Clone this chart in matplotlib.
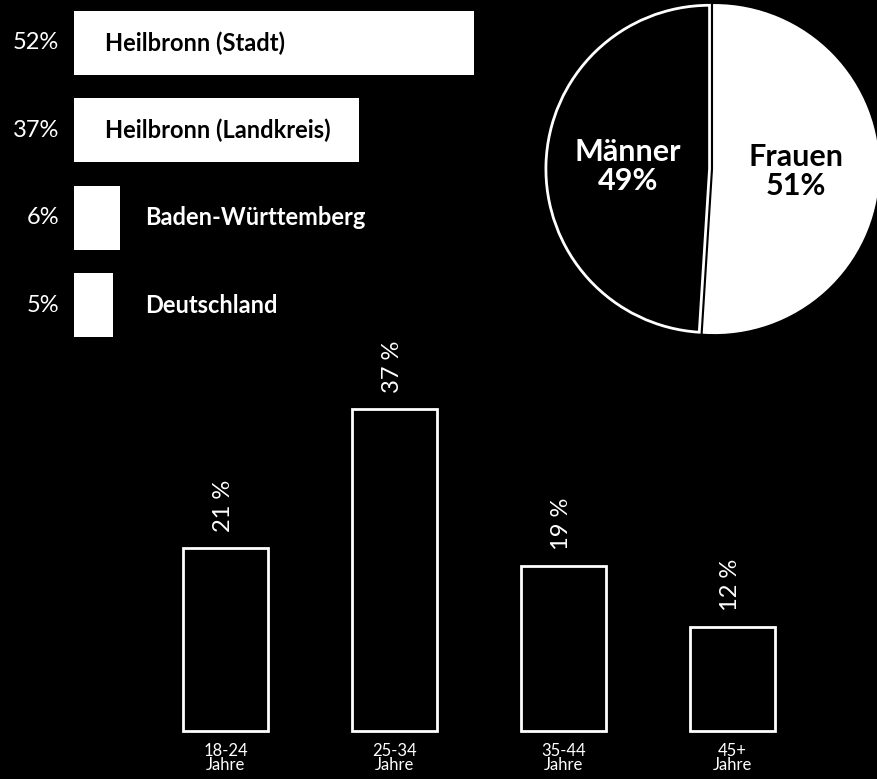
import matplotlib
matplotlib.use("Agg")
import matplotlib.pyplot as plt

# ---------------- data ----------------
regions = ["Heilbronn (Stadt)", "Heilbronn (Landkreis)", "Baden-Württemberg", "Deutschland"]
region_share = [52, 37, 6, 5]

gender_labels = ["Frauen", "Männer"]
gender_share = [51, 49]

age_groups = ["18-24\nJahre", "25-34\nJahre", "35-44\nJahre", "45+\nJahre"]
age_share = [21, 37, 19, 12]

# ---------------- figure ----------------
W, H = 877, 779
fig = plt.figure(figsize=(W / 100, H / 100), dpi=100, facecolor="black")

FONT = ["Lato", "DejaVu Sans"]
THIN = "normal"


def px_axes(left, top, width, height):
    ax = fig.add_axes([left / W, 1 - (top + height) / H, width / W, height / H])
    ax.set_facecolor("black")
    return ax


# ---------- horizontal bars (regions) ----------
ax1 = px_axes(74, 0, 420, 348)
px_per_pct = 7.7
ax1.barh(range(len(regions)), region_share, height=0.733, color="white")
ax1.set_xlim(0, 420 / px_per_pct)
ax1.set_ylim(3.492, -0.492)
ax1.axis("off")
for i, (name, v) in enumerate(zip(regions, region_share)):
    ax1.annotate(f"{v}%", xy=(0, i), xytext=(-15, 0), textcoords="offset pixels",
                 ha="right", va="center", color="white", fontsize=17,
                 fontweight=THIN, family=FONT)
    if v > 20:
        ax1.annotate(name, xy=(0, i), xytext=(31, 0), textcoords="offset pixels",
                     ha="left", va="center", color="black", fontsize=17,
                     fontweight="bold", family=FONT)
    else:
        ax1.annotate(name, xy=(0, i), xytext=(71, 0), textcoords="offset pixels",
                     ha="left", va="center", color="white", fontsize=17,
                     fontweight="bold", family=FONT)

# ---------- pie (gender) ----------
axp = px_axes(712 - 180, 169 - 180, 360, 360)
pie_labels = [f"{n}\n{v}%" for n, v in zip(gender_labels, gender_share)]
wedges, texts = axp.pie(gender_share, colors=["white", "black"], startangle=90,
                        counterclock=False, explode=[0.015, 0.015],
                        labels=pie_labels, labeldistance=0.5,
                        wedgeprops=dict(edgecolor="white", linewidth=2),
                        textprops=dict(fontsize=22, fontweight="bold", family=FONT))
for t, c in zip(texts, ["black", "white"]):
    t.set_color(c)
    t.set_ha("center")
    t.set_va("center")
    t.set_linespacing(1.05)
axp.set_xlim(-1.1, 1.1)
axp.set_ylim(-1.1, 1.1)
axp.set_aspect("equal")
axp.axis("off")

# ---------- vertical bars (age) ----------
ax2 = px_axes(141, 340, 676, 391)
bars = ax2.bar(range(len(age_groups)), age_share, width=0.503, facecolor="black",
               edgecolor="white", linewidth=2, clip_on=False)
ax2.set_xlim(-0.5, 3.5)
ax2.set_ylim(0, 391 / 8.7)
for s in ax2.spines.values():
    s.set_visible(False)
ax2.set_yticks([])
ax2.set_xticks(range(len(age_groups)))
ax2.set_xticklabels(age_groups, color="white", fontsize=12, fontweight=THIN,
                    family=FONT, linespacing=0.8)
ax2.tick_params(axis="x", length=0, pad=9)
for i, v in enumerate(age_share):
    ax2.annotate(f"{v} %", xy=(i, v), xytext=(-2, 16), textcoords="offset pixels",
                 ha="center", va="bottom", rotation=90, color="white",
                 fontsize=17, fontweight=THIN, family=FONT)

fig.savefig("out.png", dpi=100, facecolor="black")
